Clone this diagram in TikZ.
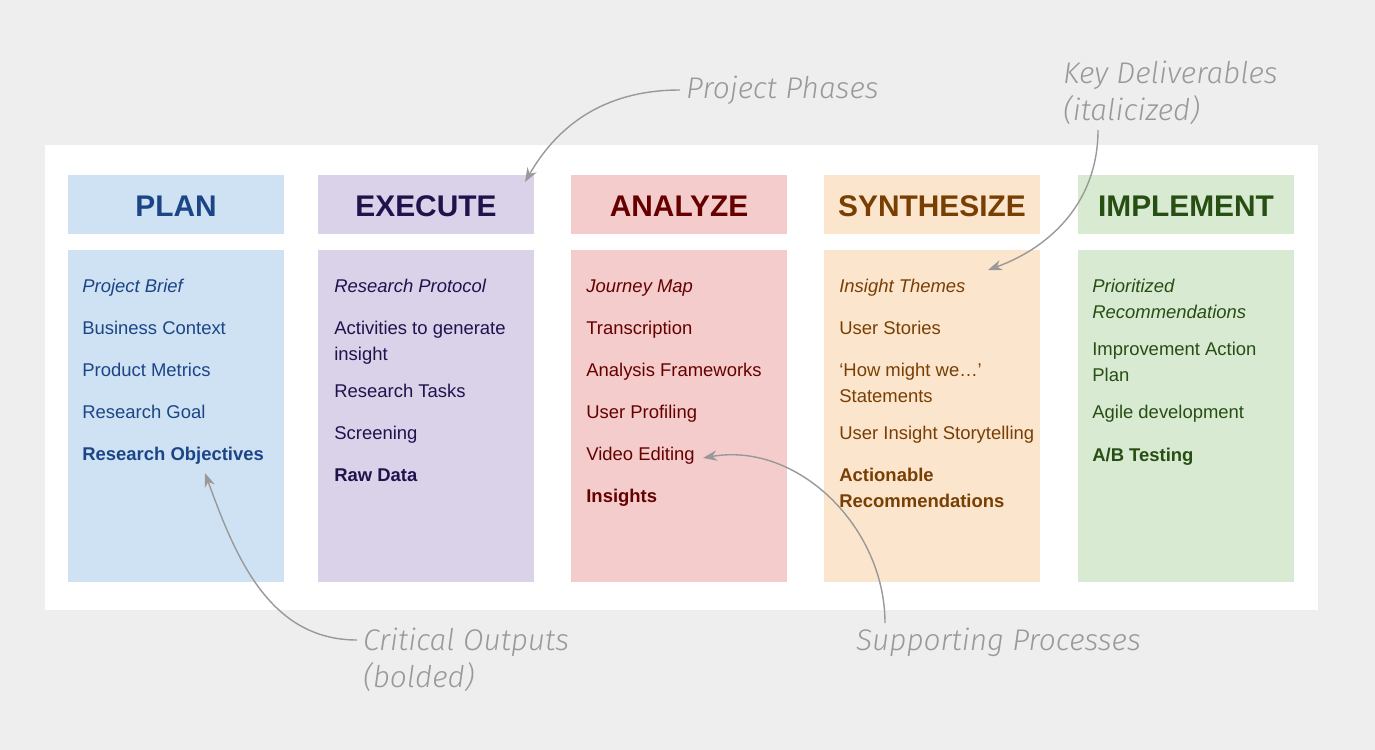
\documentclass[tikz,border=0pt]{standalone}
\usepackage{fontspec}
\setmainfont{Liberation Sans}
\newfontfamily\handfont{Fira Sans Light}
\usetikzlibrary{arrows.meta}
\definecolor{bggray}{HTML}{EEEEEE}
\definecolor{planfill}{HTML}{CFE2F3}\definecolor{plantext}{HTML}{1C4587}
\definecolor{execfill}{HTML}{D9D2E9}\definecolor{exectext}{HTML}{20124D}
\definecolor{anafill}{HTML}{F4CCCC}\definecolor{anatext}{HTML}{660000}
\definecolor{synfill}{HTML}{FCE5CD}\definecolor{syntext}{HTML}{783F04}
\definecolor{impfill}{HTML}{D9EAD3}\definecolor{imptext}{HTML}{274E13}
\definecolor{notegray}{HTML}{999999}
\tikzset{
  head/.style={font=\bfseries\fontsize{17}{20}\selectfont, text=#1},
  item/.style={anchor=north west, align=left, inner sep=0pt, text=#1,
    font=\fontsize{10.5}{14.5}\selectfont},
  note/.style={text=notegray, font=\handfont\itshape\fontsize{17}{21}\selectfont, align=left},
  notearrow/.style={-{Stealth[length=8pt,width=6pt]}, notegray, thick}
}
\begin{document}
\begin{tikzpicture}[x=0.02cm, y=-0.02cm]
    \fill[bggray] (0,0) rectangle (1375,750);
    \fill[white] (45,145) rectangle (1318,610);

    % Phase columns
    \foreach \name/\x/\fc/\tc [count=\i] in {PLAN/68/planfill/plantext, EXECUTE/318/execfill/exectext,
        ANALYZE/571/anafill/anatext, SYNTHESIZE/824/synfill/syntext, IMPLEMENT/1078/impfill/imptext} {
        \fill[\fc] (\x,175) rectangle (\x+216,234);
        \fill[\fc] (\x,250) rectangle (\x+216,582);
        \node[head=\tc] (h\i) at (\x+108,206) {\name};
    }

    % Plan
    \node[item=plantext] (p1) at (82,279) {\itshape Project Brief};
    \node[item=plantext] (p2) at (82,321) {Business Context};
    \node[item=plantext] (p3) at (82,363) {Product Metrics};
    \node[item=plantext] (p4) at (82,405) {Research Goal};
    \node[item=plantext] (p5) at (82,447) {\bfseries Research Objectives};

    % Execute
    \node[item=exectext] (e1) at (334,279) {\itshape Research Protocol};
    \node[item=exectext] (e2) at (334,321) {Activities to generate\\insight};
    \node[item=exectext] (e3) at (334,384) {Research Tasks};
    \node[item=exectext] (e4) at (334,426) {Screening};
    \node[item=exectext] (e5) at (334,468) {\bfseries Raw Data};

    % Analyze
    \node[item=anatext] (a1) at (586,279) {\itshape Journey Map};
    \node[item=anatext] (a2) at (586,321) {Transcription};
    \node[item=anatext] (a3) at (586,363) {Analysis Frameworks};
    \node[item=anatext] (a4) at (586,405) {User Profiling};
    \node[item=anatext] (a5) at (586,447) {Video Editing};
    \node[item=anatext] (a6) at (586,489) {\bfseries Insights};

    % Synthesize
    \node[item=syntext] (s1) at (839,279) {\itshape Insight Themes};
    \node[item=syntext] (s2) at (839,321) {User Stories};
    \node[item=syntext] (s3) at (839,363) {‘How might we…’\\Statements};
    \node[item=syntext] (s4) at (839,426) {User Insight Storytelling};
    \node[item=syntext] (s5) at (839,468) {\bfseries Actionable\\\bfseries Recommendations};

    % Implement
    \node[item=imptext] (i1) at (1092,279) {\itshape Prioritized\\\itshape Recommendations};
    \node[item=imptext] (i2) at (1092,342) {Improvement Action\\Plan};
    \node[item=imptext] (i3) at (1092,405) {Agile development};
    \node[item=imptext] (i4) at (1092,448) {\bfseries A/B Testing};

    % Annotations
    \node[note, anchor=west] (phases) at (680,90) {Project Phases};
    \node[note, anchor=west] (deliv) at (1057,93) {Key Deliverables\\(italicized)};
    \node[note, anchor=west] (crit) at (357,660) {Critical Outputs\\(bolded)};
    \node[note, anchor=west] (supp) at (850,642) {Supporting Processes};

    \coordinate (phasestip) at (525,182);
    \coordinate (delivtip) at (988,270);
    \coordinate (crittip) at (205,473);
    \coordinate (supptip) at (703,458);
    \draw[notearrow] (phases.west) to[out=180, in=60] (phasestip);
    \draw[notearrow] (1098,130) to[out=-90, in=20] (delivtip);
    \draw[notearrow] (crit.west |- 0,640) to[out=180, in=-70] (crittip);
    \draw[notearrow] (885,623) to[out=90, in=10] (supptip);
\end{tikzpicture}
\end{document}
